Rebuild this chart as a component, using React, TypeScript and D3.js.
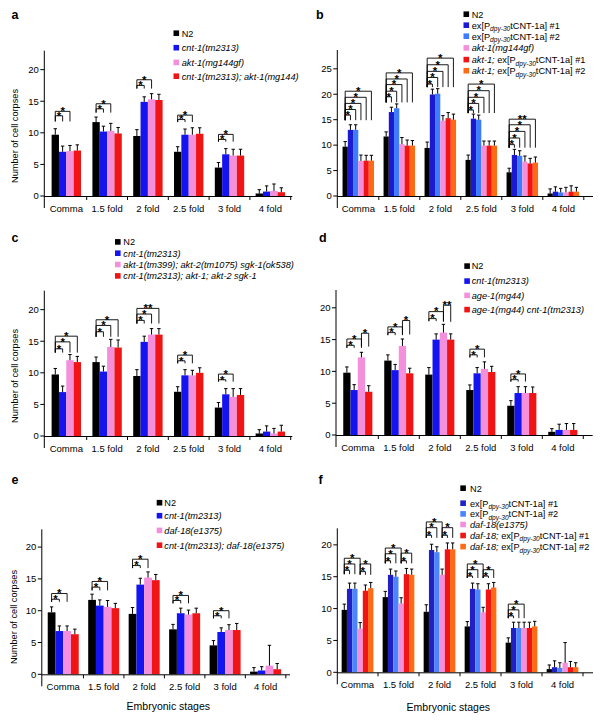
import React from "react";
import * as d3 from "d3";

const FONT = "'Liberation Sans', Arial, Helvetica, sans-serif";

const stages = ["Comma", "1.5 fold", "2 fold", "2.5 fold", "3 fold", "4 fold"];

// ---------- legend labels (segments: [text, style] n=normal, i=italic, s=italic subscript)
const aLabels = [
  [["N2", "n"]],
  [["cnt-1(tm2313)", "i"]],
  [["akt-1(mg144gf)", "i"]],
  [["cnt-1(tm2313); akt-1(mg144)", "i"]],
];
const bLabels = [
  [["N2", "n"]],
  [["ex[P", "n"], ["dpy-30", "s"], ["tCNT-1a] #1", "n"]],
  [["ex[P", "n"], ["dpy-30", "s"], ["tCNT-1a] #2", "n"]],
  [["akt-1(mg144gf)", "i"]],
  [["akt-1;", "i"], [" ex[P", "n"], ["dpy-30", "s"], ["tCNT-1a] #1", "n"]],
  [["akt-1;", "i"], [" ex[P", "n"], ["dpy-30", "s"], ["tCNT-1a] #2", "n"]],
];
const cLabels = [
  [["N2", "n"]],
  [["cnt-1(tm2313)", "i"]],
  [["akt-1(tm399); akt-2(tm1075) sgk-1(ok538)", "i"]],
  [["cnt-1(tm2313); akt-1; akt-2 sgk-1", "i"]],
];
const dLabels = [
  [["N2", "n"]],
  [["cnt-1(tm2313)", "i"]],
  [["age-1(mg44)", "i"]],
  [["age-1(mg44) cnt-1(tm2313)", "i"]],
];
const eLabels = [
  [["N2", "n"]],
  [["cnt-1(tm2313)", "i"]],
  [["daf-18(e1375)", "i"]],
  [["cnt-1(tm2313); daf-18(e1375)", "i"]],
];
const fLabels = [
  [["N2", "n"]],
  [["ex[P", "n"], ["dpy-30", "s"], ["tCNT-1a] #1", "n"]],
  [["ex[P", "n"], ["dpy-30", "s"], ["tCNT-1a] #2", "n"]],
  [["daf-18(e1375)", "i"]],
  [["daf-18;", "i"], [" ex[P", "n"], ["dpy-30", "s"], ["tCNT-1a] #1", "n"]],
  [["daf-18;", "i"], [" ex[P", "n"], ["dpy-30", "s"], ["tCNT-1a] #2", "n"]],
];

// ---------- colours
const colors4 = ["#000000", "#1414f0", "#f48fdc", "#f01414"];
const colors6 = ["#000000", "#1a1ad2", "#3d7bff", "#f48fdc", "#f01414", "#ff6a14"];
const colors6f = ["#000000", "#2020c4", "#4a84ff", "#f48fdc", "#f01414", "#ff6a14"];

// ---------- values (mean) per series, per stage
const aMeans = [
  [9.7, 11.7, 9.5, 7.0, 4.5, 0.4],
  [7.0, 10.2, 14.9, 9.7, 6.6, 0.7],
  [7.1, 10.3, 15.3, 9.7, 6.4, 0.8],
  [7.2, 9.9, 15.2, 9.85, 6.4, 0.6],
];
const aErrors = [
  [0.95, 0.8, 1.0, 0.8, 0.8, 0.6],
  [0.9, 0.85, 0.8, 0.9, 0.9, 0.9],
  [0.9, 1.2, 0.9, 1.1, 1.0, 1.1],
  [0.9, 0.95, 0.9, 0.95, 1.0, 0.7],
];
const bMeans = [
  [9.7, 11.7, 9.45, 7.1, 4.66, 0.5],
  [13.0, 16.5, 19.95, 15.2, 8.07, 0.85],
  [13.0, 17.25, 20.1, 15.0, 7.9, 0.7],
  [6.9, 10.2, 14.8, 9.9, 6.76, 0.7],
  [6.95, 9.9, 15.3, 9.9, 6.4, 0.85],
  [6.95, 9.9, 15.0, 9.9, 6.56, 0.85],
];
const bErrors = [
  [1.0, 0.9, 1.15, 0.95, 0.8, 0.9],
  [1.0, 0.95, 1.05, 0.9, 1.1, 0.95],
  [1.0, 0.85, 1.0, 0.9, 1.0, 0.8],
  [1.15, 1.3, 1.0, 0.9, 1.1, 1.0],
  [1.05, 1.1, 1.1, 0.9, 1.0, 1.15],
  [1.05, 1.0, 1.1, 0.9, 1.1, 0.85],
];
const cMeans = [
  [9.74, 11.7, 9.5, 7.0, 4.5, 0.4],
  [6.95, 10.2, 14.9, 9.6, 6.6, 0.7],
  [12.0, 14.1, 16.05, 9.6, 6.2, 0.4],
  [11.7, 14.0, 16.05, 10.0, 6.5, 0.7],
];
const cErrors = [
  [0.95, 0.8, 1.0, 0.8, 0.8, 0.6],
  [0.95, 0.85, 0.9, 0.9, 0.9, 0.9],
  [0.9, 1.2, 0.95, 0.8, 1.3, 0.8],
  [0.9, 1.2, 0.95, 0.8, 1.0, 1.0],
];
const dMeans = [
  [9.8, 11.7, 9.5, 7.07, 4.6, 0.5],
  [7.07, 10.2, 15.0, 9.7, 6.6, 0.8],
  [12.2, 14.0, 16.1, 10.4, 6.6, 0.8],
  [6.8, 9.7, 15.0, 9.9, 6.6, 0.8],
];
const dErrors = [
  [0.9, 0.9, 1.1, 0.8, 0.8, 0.5],
  [0.85, 0.9, 0.9, 0.9, 1.0, 0.9],
  [0.8, 1.1, 1.3, 1.1, 1.0, 1.0],
  [0.95, 0.8, 0.9, 0.9, 0.95, 1.0],
];
const eMeans = [
  [9.74, 11.7, 9.5, 7.07, 4.55, 0.42],
  [6.8, 10.8, 14.1, 9.6, 6.65, 0.6],
  [6.8, 10.6, 15.2, 9.4, 6.96, 1.36],
  [6.3, 10.4, 14.8, 9.6, 6.96, 0.8],
];
const eErrors = [
  [0.86, 0.9, 1.0, 0.78, 0.75, 0.63],
  [0.8, 0.9, 1.0, 0.8, 0.65, 0.6],
  [0.8, 1.0, 0.9, 0.7, 0.84, 3.2],
  [0.8, 0.75, 0.9, 0.8, 1.04, 0.9],
];
const fMeans = [
  [9.8, 11.8, 9.5, 7.2, 4.66, 0.5],
  [13.1, 15.3, 19.2, 13.1, 6.96, 0.8],
  [13.1, 15.0, 18.85, 13.0, 6.96, 0.7],
  [6.86, 10.8, 15.3, 9.4, 6.96, 1.5],
  [12.8, 15.4, 19.3, 13.0, 6.96, 0.8],
  [13.2, 15.3, 19.3, 13.3, 7.2, 0.8],
];
const fErrors = [
  [0.9, 0.9, 1.1, 0.76, 0.75, 0.65],
  [0.9, 0.9, 0.9, 0.9, 0.9, 1.0],
  [0.9, 0.9, 0.85, 0.9, 0.9, 0.8],
  [0.94, 0.9, 0.9, 0.8, 0.9, 3.16],
  [0.9, 0.9, 1.0, 0.9, 0.9, 0.9],
  [0.9, 0.9, 1.0, 0.8, 0.8, 0.7],
];

// ---------- significance brackets: [stage, fromSeries, toSeries, lineValue, legBottomValue, label]
const aBrackets = [
  [0, 0, 1, 12.7, 11.8, "*"], [0, 0, 2, 13.4, 11.8, "*"],
  [1, 0, 1, 13.8, 13.2, "*"], [1, 0, 2, 14.6, 13.2, "*"],
  [2, 0, 1, 17.5, 17.0, "*"], [2, 0, 2, 18.4, 17.0, "*"],
  [3, 0, 1, 12.1, 11.7, "*"], [3, 0, 2, 12.8, 11.7, "*"],
  [4, 0, 1, 8.95, 8.6, "*"], [4, 0, 2, 9.75, 8.6, "*"],
];
const bBrackets = [
  [0, 0, 1, 15.9, 14.9, "*"], [0, 0, 2, 17.0, 14.9, "*"], [0, 0, 3, 18.2, 14.9, "*"], [0, 0, 4, 19.4, 14.9, "*"], [0, 0, 5, 20.6, 14.9, "*"],
  [1, 0, 1, 19.5, 18.4, "*"], [1, 0, 2, 20.6, 18.4, "*"], [1, 0, 3, 21.9, 18.4, "*"], [1, 0, 4, 23.0, 18.4, "*"], [1, 0, 5, 24.2, 18.4, "*"],
  [2, 0, 1, 22.0, 21.4, "*"], [2, 0, 2, 23.3, 21.4, "*"], [2, 0, 3, 24.5, 21.4, "*"], [2, 0, 4, 25.8, 21.4, "*"], [2, 0, 5, 27.1, 21.4, "*"],
  [3, 0, 1, 16.9, 16.3, "*"], [3, 0, 2, 18.2, 16.3, "*"], [3, 0, 3, 19.4, 16.3, "*"], [3, 0, 4, 20.7, 16.3, "*"], [3, 0, 5, 22.0, 16.3, "*"],
  [4, 0, 1, 10.1, 9.5, "*"], [4, 0, 2, 11.4, 9.5, "*"], [4, 0, 3, 12.7, 9.5, "*"], [4, 0, 4, 14.0, 9.5, "*"], [4, 0, 5, 15.1, 9.5, "**"],
];
const cBrackets = [
  [0, 0, 1, 13.8, 13.2, "*"], [0, 0, 2, 14.9, 13.2, "*"], [0, 0, 3, 15.8, 13.2, "*"],
  [1, 0, 1, 16.5, 15.7, "*"], [1, 0, 2, 17.5, 15.7, "*"], [1, 0, 3, 18.4, 15.7, "*"],
  [2, 0, 1, 18.3, 17.8, "*"], [2, 0, 2, 19.3, 17.8, "*"], [2, 0, 3, 20.2, 17.8, "**"],
  [3, 0, 1, 11.9, 11.5, "*"], [3, 0, 2, 12.8, 11.5, "*"],
  [4, 0, 1, 8.9, 8.6, "*"], [4, 0, 2, 9.8, 8.6, "*"],
];
const dBrackets = [
  [0, 0, 1, 14.1, 13.7, "*"], [0, 0, 2, 15.1, 13.7, "*"], [0, 2, 3, 16.0, 13.9, "*"],
  [1, 0, 1, 16.1, 15.7, "*"], [1, 0, 2, 17.0, 15.7, "*"], [1, 2, 3, 18.0, 15.8, "*"],
  [2, 0, 1, 18.3, 17.9, "*"], [2, 0, 2, 19.4, 17.9, "*"], [2, 2, 3, 20.4, 17.8, "**"],
  [3, 0, 1, 12.6, 12.2, "*"], [3, 0, 2, 13.5, 12.2, "*"],
  [4, 0, 1, 8.7, 8.4, "*"], [4, 0, 2, 9.6, 8.4, "*"],
];
const eBrackets = [
  [0, 0, 1, 11.8, 11.4, "*"], [0, 0, 2, 12.7, 11.4, "*"],
  [1, 0, 1, 13.7, 13.2, "*"], [1, 0, 2, 14.6, 13.2, "*"],
  [2, 0, 1, 17.1, 16.7, "*"], [2, 0, 2, 18.1, 16.7, "*"],
  [3, 0, 1, 11.6, 11.15, "*"], [3, 0, 2, 12.4, 11.15, "*"],
  [4, 0, 1, 9.2, 8.8, "*"], [4, 0, 2, 10.0, 8.8, "*"],
];
const fBrackets = [
  [0, 0, 1, 16.0, 15.4, "*"], [0, 0, 2, 17.0, 15.4, "*"], [0, 0, 3, 17.9, 15.4, "*"], [0, 3, 4, 15.8, 15.3, "*"], [0, 3, 5, 17.0, 15.3, "*"],
  [1, 0, 1, 17.5, 17.1, "*"], [1, 0, 2, 18.6, 17.1, "*"], [1, 0, 3, 19.5, 17.1, "*"], [1, 3, 4, 17.5, 17.1, "*"], [1, 3, 5, 18.7, 17.1, "*"],
  [2, 0, 1, 21.5, 21.1, "*"], [2, 0, 2, 22.7, 21.1, "*"], [2, 0, 3, 23.6, 21.1, "*"], [2, 3, 4, 21.5, 21.1, "*"], [2, 3, 5, 22.7, 21.1, "*"],
  [3, 0, 1, 15.1, 14.8, "*"], [3, 0, 2, 16.1, 14.8, "*"], [3, 0, 3, 17.0, 14.8, "*"], [3, 3, 4, 15.1, 14.8, "*"], [3, 3, 5, 16.1, 14.8, "*"],
  [4, 0, 1, 8.85, 8.5, "*"], [4, 0, 2, 9.8, 8.5, "*"], [4, 0, 3, 10.7, 8.5, "*"],
];

const ticks20 = [0, 5, 10, 15, 20];
const ticks25 = [0, 5, 10, 15, 20, 25];

// ---------- layout (positions / sizes)
const panels = [
  { letter: "a", lx: 11.5, ly: 19, means: aMeans, errors: aErrors, brackets: aBrackets, labels: aLabels, colors: colors4,
    axisX: 44.3, y0: 196, yTop: 50.7, yMax: 23, xr: [45.9, 290.7], pad: 0.28, ticks: ticks20, xEnd: 292.3,
    legSq: 173.5, legTx: 181.7, legRows: [33.3, 47.8, 62.5, 76.3], title: [18, 136], xTitle: null },
  { letter: "b", lx: 316, ly: 18.5, means: bMeans, errors: bErrors, brackets: bBrackets, labels: bLabels, colors: colors6,
    axisX: 337.3, y0: 196, yTop: 50, yMax: 28.7, xr: [337.8, 583.8], pad: 0.232, ticks: ticks25, xEnd: 593,
    legSq: 463.5, legTx: 471.7, legRows: [14.3, 25.3, 36.3, 48, 59.7, 70.8], title: null, xTitle: null },
  { letter: "c", lx: 11.5, ly: 242, means: cMeans, errors: cErrors, brackets: cBrackets, labels: cLabels, colors: colors4,
    axisX: 44.3, y0: 436, yTop: 290.7, yMax: 23, xr: [45.9, 290.7], pad: 0.28, ticks: ticks20, xEnd: 292.3,
    legSq: 115, legTx: 123.3, legRows: [242, 253.3, 264.6, 276], title: [18, 376], xTitle: null },
  { letter: "d", lx: 319, ly: 241.5, means: dMeans, errors: dErrors, brackets: dBrackets, labels: dLabels, colors: colors4,
    axisX: 336, y0: 435, yTop: 290, yMax: 22.8, xr: [337.3, 583.3], pad: 0.29, ticks: ticks20, xEnd: 592.7,
    legSq: 464.3, legTx: 471.7, legRows: [266.2, 281.2, 295.5, 309.7], title: null, xTitle: null },
  { letter: "e", lx: 11.5, ly: 483.5, means: eMeans, errors: eErrors, brackets: eBrackets, labels: eLabels, colors: colors4,
    axisX: 41.8, y0: 674.3, yTop: 529.3, yMax: 22.8, xr: [43, 285.8], pad: 0.234, ticks: ticks20, xEnd: 290,
    legSq: 156.7, legTx: 164.3, legRows: [502.8, 515.8, 530.5, 545.3], title: [17, 617], xTitle: [168.3, 710] },
  { letter: "f", lx: 318.5, ly: 484, means: fMeans, errors: fErrors, brackets: fBrackets, labels: fLabels, colors: colors6f,
    axisX: 337.3, y0: 672.3, yTop: 528.3, yMax: 22.6, xr: [337, 583], pad: 0.227, ticks: ticks20, xEnd: 593,
    legSq: 460.3, legTx: 470, legRows: [488.3, 503.3, 514, 524.6, 535.6, 546.7], title: null, xTitle: [448.3, 710.5] },
];

function LegendText({ x, y, segs, size }) {
  const out = [];
  let sub = false;
  segs.forEach(([t, st], k) => {
    if (st === "s") {
      out.push(<tspan key={k} fontStyle="italic" fontSize={size * 0.72} dy={2.6}>{t}</tspan>);
      sub = true;
    } else {
      out.push(
        <tspan key={k} fontStyle={st === "i" ? "italic" : "normal"} dy={sub ? -2.6 : 0}>{t}</tspan>
      );
      sub = false;
    }
  });
  return (
    <text x={x} y={y} fontSize={size} fontFamily={FONT} fill="#000">{out}</text>
  );
}

function Panel({ p }) {
  const nS = p.means.length;
  const x0 = d3.scaleBand().domain(stages).range(p.xr).paddingInner(p.pad).paddingOuter(p.pad / 2);
  const x1 = d3.scaleBand().domain(d3.range(nS).map(String)).range([0, x0.bandwidth()]).padding(0);
  const y = d3.scaleLinear().domain([0, p.yMax]).range([p.y0, p.yTop]);
  const bw = x1.bandwidth();
  const cx = (si, ki) => x0(stages[si]) + x1(String(ki)) + bw / 2;
  const capHalf = 1.7;
  const bounds = stages.map((s) => x0(s) + x0.bandwidth() + (x0.step() - x0.bandwidth()) / 2);

  return (
    <g>
      <text x={p.lx} y={p.ly} fontFamily={FONT} fontWeight="bold" fontSize={12.5}>{p.letter}</text>
      {/* bars */}
      {p.means.map((ser, ki) =>
        ser.map((v, si) => (
          <rect key={`b${ki}-${si}`} x={x0(stages[si]) + x1(String(ki))} y={y(v)} width={bw}
            height={p.y0 - y(v)} fill={p.colors[ki]} />
        ))
      )}
      {/* error bars */}
      {p.means.map((ser, ki) =>
        ser.map((v, si) => {
          const c = cx(si, ki);
          const t = y(v + p.errors[ki][si]);
          return (
            <g key={`e${ki}-${si}`} stroke="#000" strokeWidth={1}>
              <line x1={c} x2={c} y1={y(v)} y2={t} />
              <line x1={c - capHalf} x2={c + capHalf} y1={t} y2={t} />
            </g>
          );
        })
      )}
      {/* brackets */}
      {p.brackets.map(([si, a, b, top, base, lab], k) => {
        const xa = cx(si, a);
        const xb = cx(si, b);
        const yt = y(top);
        const yb = y(base);
        return (
          <g key={`k${k}`}>
            <path d={`M${xa},${yb}V${yt}H${xb}V${yb}`} fill="none" stroke="#000" strokeWidth={0.9} />
            <text x={(xa + xb) / 2} y={yt + 3.8} textAnchor="middle" fontFamily={FONT} fontWeight="bold"
              fontSize={11.5}>{lab}</text>
          </g>
        );
      })}
      {/* y axis */}
      <line x1={p.axisX} x2={p.axisX} y1={p.yTop} y2={p.y0 + 12} stroke="#000" strokeWidth={1} />
      {p.ticks.map((t) => (
        <g key={`t${t}`}>
          <line x1={p.axisX - 4} x2={p.axisX} y1={y(t)} y2={y(t)} stroke="#000" strokeWidth={1} />
          <text x={p.axisX - 5.5} y={y(t) + 3.3} textAnchor="end" fontFamily={FONT} fontSize={9.5}>{t}</text>
        </g>
      ))}
      {/* x axis */}
      <line x1={p.axisX} x2={p.xEnd} y1={p.y0 + 0.5} y2={p.y0 + 0.5} stroke="#000" strokeWidth={1} />
      {bounds.map((bx, k) => (
        <line key={`xt${k}`} x1={bx} x2={bx} y1={p.y0 + 0.5} y2={p.y0 + 4} stroke="#000" strokeWidth={1} />
      ))}
      {stages.map((s) => (
        <text key={s} x={x0(s) + x0.bandwidth() / 2} y={p.y0 + 15.5} textAnchor="middle" fontFamily={FONT}
          fontSize={9.5}>{s}</text>
      ))}
      {p.title && (
        <text transform={`translate(${p.title[0]},${p.title[1]}) rotate(-90)`} textAnchor="middle"
          fontFamily={FONT} fontSize={9.2}>Number of cell corpses</text>
      )}
      {p.xTitle && (
        <text x={p.xTitle[0]} y={p.xTitle[1]} textAnchor="middle" fontFamily={FONT} fontSize={10.5}>Embryonic stages</text>
      )}
      {/* legend */}
      {p.labels.map((segs, ki) => (
        <g key={`l${ki}`}>
          <rect x={p.legSq} y={p.legRows[ki] - 2.9} width={5.6} height={5.6} fill={p.colors[ki]} />
          <LegendText x={p.legTx} y={p.legRows[ki] + 3.2} segs={segs} size={9.2} />
        </g>
      ))}
    </g>
  );
}

export default function App() {
  return (
    <svg width={603} height={722} style={{ position: "absolute", left: 0, top: 0, background: "#fff" }}>
      <rect width={603} height={722} fill="#fff" />
      {panels.map((p) => (
        <Panel key={p.letter} p={p} />
      ))}
    </svg>
  );
}
